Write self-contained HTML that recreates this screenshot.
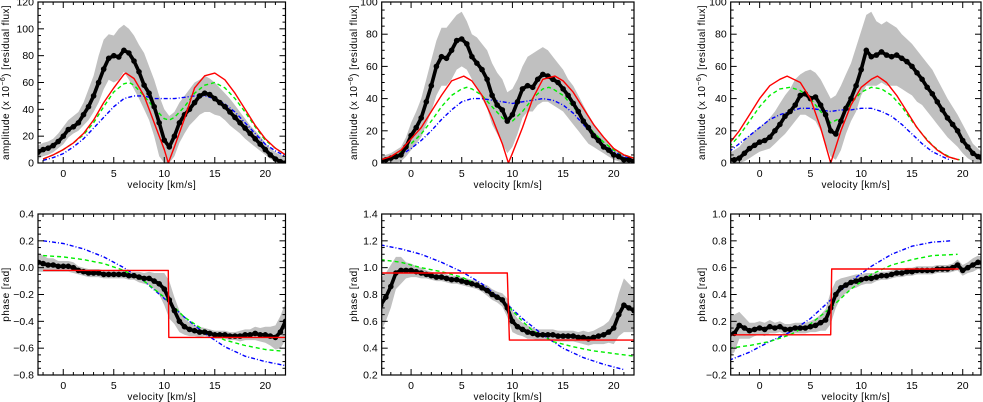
<!DOCTYPE html>
<html><head><meta charset="utf-8">
<style>
body{margin:0;background:#fff;}
svg{display:block;font-family:"Liberation Sans",sans-serif;}
</style></head>
<body>
<svg id="fig" width="983" height="402" viewBox="0 0 983 402"></svg>
<script>
// ---------- DATA ----------
const velA = [-2.5,-2,-1.5,-1,-0.5,0,0.5,1,1.5,2,2.5,3,3.5,4,4.5,5,5.5,6,6.5,7,7.5,8,8.5,9,9.5,10,10.5,11,11.5,12,12.5,13,13.5,14,14.5,15,15.5,16,16.5,17,17.5,18,18.5,19,19.5,20,20.5,21,21.5,22];
const velB = [-3,-2.5,-2,-1.5,-1,-0.5,0,0.5,1,1.5,2,2.5,3,3.5,4,4.5,5,5.5,6,6.5,7,7.5,8,8.5,9,9.5,10,10.5,11,11.5,12,12.5,13,13.5,14,14.5,15,15.5,16,16.5,17,17.5,18,18.5,19,19.5,20,20.5,21,21.5,22];

// Panel 1 amplitude
const amp1Dots = [8,10,11,13,16,20,25,27,30,36,42,50,60,70,78,80,79,84,82,76,68,58,52,42,30,17,12,20,30,36,40,45,50,52,51,48,45,42,38,34,30,26,22,18,14,10,6,3,1,0];
const amp1Up = [13,15,16,18,22,27,32,35,38,45,55,65,80,92,96,95,100,103,100,95,88,82,72,62,50,40,35,38,45,50,55,60,62,65,63,60,56,52,48,43,38,33,28,24,20,15,11,8,6,5];
const amp1Lo = [3,5,6,8,11,14,19,22,24,28,32,38,45,55,62,60,62,68,62,55,48,40,32,20,5,0,0,5,15,22,28,32,36,38,38,36,35,32,28,25,22,18,15,12,9,6,3,1,0,0];
const amp1RedX = [-2,-1,0,1,2,3,4,5,6,6.2,7,8,9,10,10.4,11,12,13,14,15,16,17,18,19,20,21,22];
const amp1RedY = [3,6,10,15,22,32,45,56,66,67,63,50,30,10,0,12,33,56,65,67,62,52,40,28,18,11,6];
const amp1GrnX = [-2,-1,0,1,2,3,4,5,6,6.5,7,8,9,10,10.5,11,12,13,14,15,16,17,18,19,20,21,22];
const amp1GrnY = [3,6,10,15,21,30,42,53,59,60,58,50,41,33,32,34,42,52,58,60,56,48,38,27,17,11,6];
const amp1BluX = [-2,-1,0,1,2,3,4,5,6,7,8,9,10,11,12,13,14,15,16,17,18,19,20,21,22];
const amp1BluY = [2,4,7,12,18,26,34,42,48,50,50,48,48,48,49,50,50,48,44,38,30,22,14,9,5];

// Panel 2 amplitude
const amp2Dots = [1,2,3,4,5,10,17,22,28,38,48,60,66,65,70,76,77,74,66,62,58,52,42,36,33,26,30,38,46,48,47,52,55,54,52,50,46,42,37,32,26,22,17,14,10,8,5,4,2,2,1];
const amp2Up = [4,5,6,8,10,16,25,32,40,52,64,76,84,84,88,92,94,88,80,78,74,70,62,56,52,44,46,52,60,66,68,70,72,70,66,62,58,52,48,42,36,30,25,20,16,12,9,7,5,4,3];
const amp2Lo = [0,0,0,0,1,4,8,12,16,24,32,42,48,48,52,58,60,58,52,46,40,34,24,18,12,6,10,18,28,32,32,36,38,38,36,34,32,28,24,20,16,12,10,8,6,4,2,1,0,0,0];
const amp2RedX = [-3,-2,-1,0,1,2,3,4,5.2,6,7,8,9,9.6,10,11,12,13,14.2,15,16,17,18,19,20,21,22];
const amp2RedY = [2,4,8,15,22,32,42,51,54,51,42,28,12,0,6,22,40,52,54,51,44,34,24,16,9,5,3];
const amp2GrnX = [-3,-2,-1,0,1,2,3,4,5,5.5,6,7,8,9,9.6,10,11,12,13,13.6,14,15,16,17,18,19,20,21,22];
const amp2GrnY = [2,4,7,12,18,26,35,42,46,47,46,42,35,28,25,26,32,40,46,47,46,42,35,27,19,13,8,5,3];
const amp2BluX = [-3,-2,-1,0,1,2,3,4,5,6,7,8,9,10,11,12,13,14,15,16,17,18,19,20,21,22];
const amp2BluY = [1,3,5,9,14,20,27,33,38,40,40,39,38,37,38,39,40,39,36,31,24,17,11,7,4,2];

// Panel 3 amplitude
const amp3Dots = [2,2,3,6,9,11,13,14,16,20,24,29,32,36,42,43,40,41,36,30,20,18,26,34,40,48,58,70,66,67,69,67,66,67,65,63,60,56,52,47,43,38,33,28,24,20,14,10,6,4,2];
const amp3Up = [6,8,10,14,17,20,22,25,28,32,37,42,46,52,55,57,58,56,52,46,40,42,48,55,62,72,82,92,94,88,86,88,86,84,80,77,74,70,66,62,58,52,46,40,35,30,24,18,12,9,6];
const amp3Lo = [0,0,0,1,3,5,7,8,9,12,15,18,22,26,30,30,28,26,20,12,4,2,8,18,26,32,42,48,48,48,50,48,48,48,46,44,42,38,36,32,28,24,20,16,13,10,6,3,1,0,0];
const amp3RedX = [-3,-2,-1,0,1,2,2.7,4,5,6,7,8,9,10,11,11.6,12.5,13.5,14.5,15.5,16.5,17.5,18.5,19.6];
const amp3RedY = [12,20,30,40,48,52,54,50,40,22,0,20,36,47,52,54,50,42,32,22,14,8,4,2];
const amp3GrnX = [-3,-2,-1,0,1,2,3,4,5,6,7,8,9,10,11,12,13,14,15,16,17,18,19,19.7];
const amp3GrnY = [10,17,26,35,42,46,47,45,40,32,25,28,37,44,47,46,42,35,26,18,11,6,3,2];
const amp3BluX = [-3,-2,-1,0,1,2,3,4,5,6,7,8,9,10,11,12,13,14,15,16,17,18,18.7];
const amp3BluY = [7,12,17,22,27,30,32,34,34,33,32,33,33,34,34,32,29,24,18,12,7,4,2];

// Panel 4 phase
const ph4Dots = [0.04,0.03,0.02,0.02,0.01,0.01,0.01,0,-0.02,-0.03,-0.04,-0.04,-0.04,-0.05,-0.05,-0.05,-0.05,-0.05,-0.06,-0.06,-0.07,-0.08,-0.08,-0.1,-0.12,-0.16,-0.24,-0.32,-0.4,-0.44,-0.46,-0.47,-0.48,-0.48,-0.49,-0.5,-0.5,-0.5,-0.51,-0.51,-0.51,-0.5,-0.5,-0.49,-0.5,-0.5,-0.51,-0.52,-0.48,-0.4];
const ph4Err = [0.07,0.06,0.05,0.05,0.04,0.04,0.04,0.04,0.03,0.03,0.03,0.03,0.03,0.03,0.03,0.03,0.03,0.03,0.03,0.03,0.04,0.04,0.05,0.06,0.08,0.12,0.14,0.1,0.08,0.06,0.05,0.04,0.04,0.03,0.03,0.03,0.03,0.03,0.03,0.03,0.04,0.04,0.04,0.05,0.05,0.06,0.07,0.09,0.12,0.14];
const ph4RedX = [-2,10.4,10.45,22];
const ph4RedY = [-0.02,-0.02,-0.52,-0.52];
const ph4GrnX = [-2,0,2,4,6,8,10,12,14,16,18,20,21.5];
const ph4GrnY = [0.09,0.08,0.06,0.03,-0.02,-0.1,-0.22,-0.37,-0.47,-0.54,-0.58,-0.61,-0.62];
const ph4BluX = [-2,0,2,4,6,8,10,12,14,16,18,20,22];
const ph4BluY = [0.2,0.18,0.14,0.08,0,-0.1,-0.23,-0.37,-0.49,-0.59,-0.66,-0.7,-0.73];

// Panel 5 phase
const ph5Dots = [0.72,0.78,0.86,0.96,0.98,0.98,0.98,0.97,0.96,0.95,0.94,0.93,0.93,0.92,0.91,0.91,0.9,0.89,0.88,0.87,0.85,0.83,0.8,0.78,0.76,0.7,0.6,0.56,0.54,0.52,0.51,0.5,0.5,0.5,0.5,0.49,0.49,0.49,0.49,0.48,0.48,0.47,0.48,0.49,0.5,0.52,0.55,0.65,0.72,0.7,0.68];
const ph5Err = [0.2,0.18,0.16,0.12,0.1,0.06,0.05,0.04,0.04,0.03,0.03,0.03,0.03,0.03,0.03,0.03,0.03,0.03,0.03,0.03,0.03,0.04,0.04,0.04,0.05,0.07,0.08,0.06,0.05,0.05,0.04,0.04,0.04,0.04,0.04,0.04,0.04,0.04,0.04,0.04,0.05,0.05,0.05,0.06,0.07,0.08,0.12,0.16,0.2,0.18,0.16];
const ph5RedX = [-3,9.5,9.7,22];
const ph5RedY = [0.96,0.96,0.46,0.46];
const ph5GrnX = [-3,-1,1,3,5,7,9,10,11,12,14,16,18,20,22];
const ph5GrnY = [1.06,1.04,1.0,0.97,0.93,0.86,0.76,0.68,0.6,0.53,0.45,0.41,0.38,0.36,0.34];
const ph5BluX = [-3,-1,1,3,5,7,9,11,13,15,17,19,21];
const ph5BluY = [1.17,1.14,1.1,1.04,0.97,0.88,0.76,0.62,0.5,0.4,0.33,0.28,0.24];

// Panel 6 phase
const ph6Dots = [0.1,0.11,0.17,0.15,0.13,0.14,0.15,0.14,0.16,0.15,0.16,0.14,0.14,0.15,0.15,0.15,0.16,0.17,0.19,0.21,0.3,0.4,0.45,0.47,0.49,0.5,0.51,0.52,0.52,0.53,0.54,0.54,0.55,0.56,0.56,0.57,0.57,0.58,0.58,0.58,0.58,0.59,0.59,0.59,0.6,0.62,0.58,0.6,0.62,0.64,0.63];
const ph6Err = [0.16,0.14,0.1,0.08,0.06,0.05,0.05,0.05,0.05,0.04,0.04,0.04,0.04,0.04,0.04,0.04,0.04,0.05,0.06,0.08,0.12,0.1,0.07,0.06,0.05,0.05,0.04,0.04,0.04,0.03,0.03,0.03,0.03,0.03,0.03,0.03,0.03,0.03,0.03,0.03,0.03,0.03,0.03,0.03,0.03,0.04,0.04,0.04,0.05,0.05,0.05];
const ph6RedX = [-3,7,7.1,19.6];
const ph6RedY = [0.1,0.1,0.59,0.59];
const ph6GrnX = [-3,-1,1,3,5,7,9,11,13,15,17,19.5];
const ph6GrnY = [0,0.02,0.05,0.1,0.18,0.3,0.44,0.55,0.62,0.66,0.69,0.7];
const ph6BluX = [-3,-1,1,3,5,7,9,11,13,15,17,18.8];
const ph6BluY = [-0.09,-0.03,0.05,0.12,0.22,0.36,0.5,0.61,0.7,0.76,0.79,0.8];

const xTicks = [0,5,10,15,20];
const ampTicks1 = [0,20,40,60,80,100,120];
const ampTicks2 = [0,20,40,60,80,100];
const phTicks4 = [-0.8,-0.6,-0.4,-0.2,0.0,0.2,0.4];
const phTicks5 = [0.2,0.4,0.6,0.8,1.0,1.2,1.4];
const phTicks6 = [-0.2,0.0,0.2,0.4,0.6,0.8,1.0];

// ---------- DRAWING ----------
const NS='http://www.w3.org/2000/svg';
const svg=document.getElementById('fig');
function mk(tag,attrs,parent){const e=document.createElementNS(NS,tag);for(const k in attrs)e.setAttribute(k,attrs[k]);(parent||svg).appendChild(e);return e;}

function panel(cfg){
  const g=mk('g',{});
  
  
  const sx=v=>cfg.px0+(v-cfg.xmin)/(cfg.xmax-cfg.xmin)*(cfg.px1-cfg.px0);
  const sy=v=>cfg.py1-(v-cfg.ymin)/(cfg.ymax-cfg.ymin)*(cfg.py1-cfg.py0);
  const clip='clip-'+cfg.name;
  const cp=mk('clipPath',{id:clip},g);
  mk('rect',{x:cfg.px0,y:cfg.py0,width:cfg.px1-cfg.px0,height:cfg.py1-cfg.py0},cp);
  const inner=mk('g',{'clip-path':'url(#'+clip+')'},g);
  let up,lo;
  if(cfg.up){up=cfg.up;lo=cfg.lo;}else{up=cfg.dots.map((d,i)=>d+cfg.err[i]);lo=cfg.dots.map((d,i)=>d-cfg.err[i]);}
  let pts=[];
  cfg.vel.forEach((v,i)=>pts.push(sx(v).toFixed(1)+','+sy(up[i]).toFixed(1)));
  for(let i=cfg.vel.length-1;i>=0;i--)pts.push(sx(cfg.vel[i]).toFixed(1)+','+sy(lo[i]).toFixed(1));
  const band=mk('polygon',{points:pts.join(' '),fill:'#c0c0c0'},inner);
  
  
  function line(xs,ys,color,dash,nm,w){
    const p=mk('polyline',{points:xs.map((x,i)=>sx(x).toFixed(1)+','+sy(ys[i]).toFixed(1)).join(' '),fill:'none',stroke:color,'stroke-width':w||1.4,'stroke-linejoin':'round'},inner);
    if(dash)p.setAttribute('stroke-dasharray',dash);
    
    
  }
  line(cfg.bluX,cfg.bluY,'#0000ff','4,2,1,2','blue-model-line');
  line(cfg.grnX,cfg.grnY,'#00ee00','4,3','green-model-line');
  // dots chain
  line(cfg.vel,cfg.dots,'#000',null,'data-trace',3.6);
  const dg=mk('g',{fill:'#000'},inner);
  
  
  cfg.vel.forEach((v,i)=>{
    const c=mk('circle',{cx:sx(v).toFixed(1),cy:sy(cfg.dots[i]).toFixed(1),r:2.8},dg);
    
    
  });
  line(cfg.redX,cfg.redY,'#ff0000',null,'red-model-line');
  const fr=mk('rect',{x:cfg.px0,y:cfg.py0,width:cfg.px1-cfg.px0,height:cfg.py1-cfg.py0,fill:'none',stroke:'#000','stroke-width':1.2},g);
  
  
  const tk=mk('g',{stroke:'#000','stroke-width':1},g);
  for(let v=Math.ceil(cfg.xmin);v<=cfg.xmax;v++){
    const X=sx(v),L=(v%5===0)?6:3;
    mk('line',{x1:X,y1:cfg.py1,x2:X,y2:cfg.py1-L},tk);
    mk('line',{x1:X,y1:cfg.py0,x2:X,y2:cfg.py0+L},tk);
  }
  const yt=cfg.yTicks, step=yt[1]-yt[0], minor=step/4;
  for(let v=cfg.ymin;v<=cfg.ymax+1e-9;v+=minor){
    const Y=sy(v), isMaj=Math.abs(Math.round((v-cfg.ymin)/step)*step-(v-cfg.ymin))<1e-6, L=isMaj?6:3;
    mk('line',{x1:cfg.px0,y1:Y,x2:cfg.px0+L,y2:Y},tk);
    mk('line',{x1:cfg.px1,y1:Y,x2:cfg.px1-L,y2:Y},tk);
  }
  xTicks.forEach(v=>{
    const t=mk('text',{x:sx(v),y:cfg.py1+14,'font-size':10.5,'text-anchor':'middle'},g);
    t.textContent=String(v);
    
    
  });
  yt.forEach(v=>{
    const t=mk('text',{x:cfg.px0-4,y:sy(v)+3.5,'font-size':10.5,'text-anchor':'end'},g);
    t.textContent=cfg.fmt(v);
    
    
  });
  const xt=mk('text',{x:(cfg.px0+cfg.px1)/2,y:cfg.py1+25,'font-size':10,'text-anchor':'middle','letter-spacing':'0.4'},g);
  xt.textContent='velocity [km/s]';
  
  
  const ycx=cfg.ytx, ycy=(cfg.py0+cfg.py1)/2;
  const ytt=mk('text',{x:ycx,y:ycy,'font-size':10,'text-anchor':'middle','letter-spacing':'0.4',transform:'rotate(-90 '+ycx+' '+ycy+')'},g);
  ytt.innerHTML=cfg.ylab;
  
  
}
const ampLab='amplitude  (x 10<tspan dy="-4" font-size="7">−6</tspan><tspan dy="4">)  [residual flux]</tspan>';
const fInt=v=>String(v);
const fPh=v=>(v<0?'−':'')+Math.abs(v).toFixed(1);
const T={py0:2,py1:163}, B={py0:214,py1:375};
panel({name:'amplitude-panel-1',vel:velA,dots:amp1Dots,up:amp1Up,lo:amp1Lo,redX:amp1RedX,redY:amp1RedY,grnX:amp1GrnX,grnY:amp1GrnY,bluX:amp1BluX,bluY:amp1BluY,xmin:-2.5,xmax:22,ymin:0,ymax:120,px0:38,px1:285.5,py0:T.py0,py1:T.py1,yTicks:ampTicks1,fmt:fInt,ytx:9,ylab:ampLab});
panel({name:'amplitude-panel-2',vel:velB,dots:amp2Dots,up:amp2Up,lo:amp2Lo,redX:amp2RedX,redY:amp2RedY,grnX:amp2GrnX,grnY:amp2GrnY,bluX:amp2BluX,bluY:amp2BluY,xmin:-2.9,xmax:22,ymin:0,ymax:100,px0:381.7,px1:634,py0:T.py0,py1:T.py1,yTicks:ampTicks2,fmt:fInt,ytx:357,ylab:ampLab});
panel({name:'amplitude-panel-3',vel:velB,dots:amp3Dots,up:amp3Up,lo:amp3Lo,redX:amp3RedX,redY:amp3RedY,grnX:amp3GrnX,grnY:amp3GrnY,bluX:amp3BluX,bluY:amp3BluY,xmin:-2.85,xmax:21.8,ymin:0,ymax:100,px0:730.7,px1:981,py0:T.py0,py1:T.py1,yTicks:ampTicks2,fmt:fInt,ytx:705,ylab:ampLab});
panel({name:'phase-panel-1',vel:velA,dots:ph4Dots,err:ph4Err,redX:ph4RedX,redY:ph4RedY,grnX:ph4GrnX,grnY:ph4GrnY,bluX:ph4BluX,bluY:ph4BluY,xmin:-2.5,xmax:22,ymin:-0.8,ymax:0.4,px0:38,px1:285.5,py0:B.py0,py1:B.py1,yTicks:phTicks4,fmt:fPh,ytx:9,ylab:'phase  [rad]'});
panel({name:'phase-panel-2',vel:velB,dots:ph5Dots,err:ph5Err,redX:ph5RedX,redY:ph5RedY,grnX:ph5GrnX,grnY:ph5GrnY,bluX:ph5BluX,bluY:ph5BluY,xmin:-2.9,xmax:22,ymin:0.2,ymax:1.4,px0:381.7,px1:634,py0:B.py0,py1:B.py1,yTicks:phTicks5,fmt:fPh,ytx:357,ylab:'phase  [rad]'});
panel({name:'phase-panel-3',vel:velB,dots:ph6Dots,err:ph6Err,redX:ph6RedX,redY:ph6RedY,grnX:ph6GrnX,grnY:ph6GrnY,bluX:ph6BluX,bluY:ph6BluY,xmin:-2.85,xmax:21.8,ymin:-0.2,ymax:1.0,px0:730.7,px1:981,py0:B.py0,py1:B.py1,yTicks:phTicks6,fmt:fPh,ytx:705,ylab:'phase  [rad]'});
</script>
</body></html>
